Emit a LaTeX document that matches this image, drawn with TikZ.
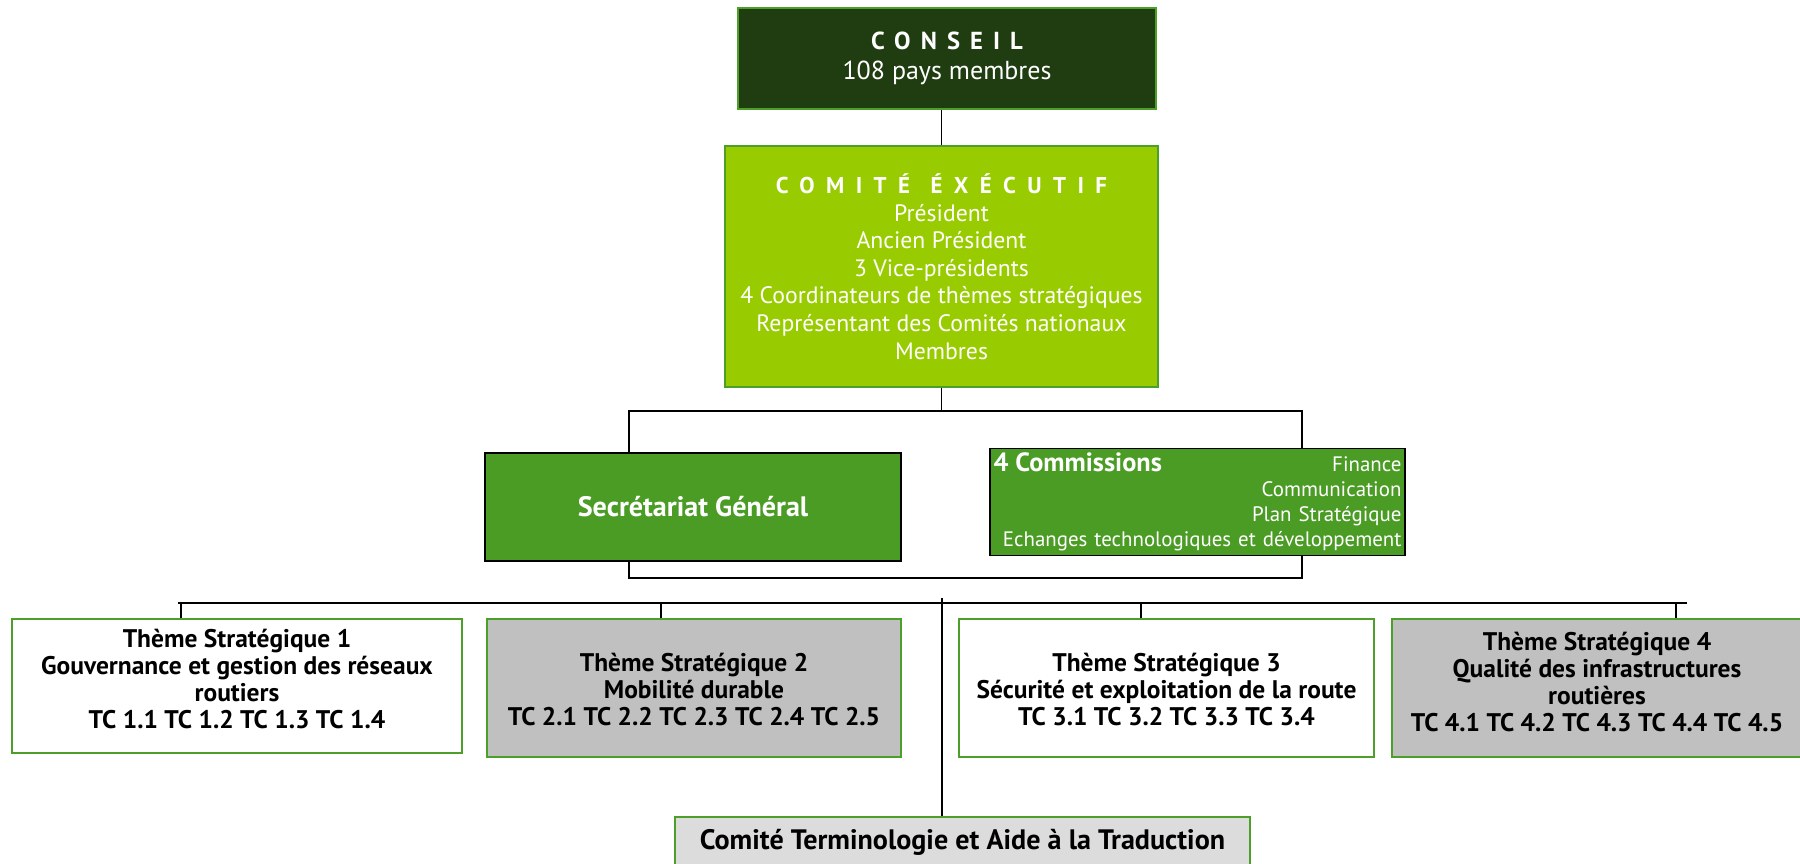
\documentclass[tikz,border=0pt]{standalone}
\usepackage{fontspec}
\setmainfont{PT Sans}
\usetikzlibrary{positioning}

\definecolor{darkgreen}{HTML}{1F3D11}
\definecolor{lightgreen}{HTML}{99CC00}
\definecolor{midgreen}{HTML}{4A9C24}
\definecolor{edgegreen}{HTML}{4CA02A}
\definecolor{themegray}{HTML}{C0C0C0}
\definecolor{paegray}{HTML}{DCDCDC}

\newcommand{\spaced}[2]{{\addfontfeature{LetterSpace=#1}#2}}

\begin{document}
\begin{tikzpicture}[x=0.02cm, y=-0.02cm,
    box/.style={draw=edgegreen, line width=1.1pt, align=center, inner sep=0pt},
    darkbox/.style={box, fill=midgreen, draw=black, text=white},
    theme/.style={box, minimum height=2.76cm},
    themetext/.style={align=center, inner sep=0pt,
        font=\bfseries\fontsize{14.5}{15.4}\selectfont},
    link/.style={line width=1.1pt},
    ]
    \clip (0,0) rectangle (1800,863);

    \node[box, fill=darkgreen, text=white, minimum width=8.36cm, minimum height=2.02cm,
        font=\fontsize{14.8}{17.5}\selectfont] (conseil) at (947,58.5)
        {{\bfseries\fontsize{14}{17.5}\selectfont\spaced{41}{CONSEIL}}\\108 pays membres};

    \node[box, fill=lightgreen, text=white, minimum width=8.66cm, minimum height=4.82cm,
        font=\fontsize{13.5}{15.7}\selectfont] (comite) at (941.5,266.5)
        {{\bfseries\fontsize{13}{15.7}\selectfont\spaced{50}{COMITÉ}\hspace{0.9em}\spaced{50}{ÉXÉCUTIF}}\\Président\\Ancien Président\\3 Vice-présidents\\
        4 Coordinateurs de thèmes stratégiques\\Représentant des Comités nationaux\\Membres};

    \node[darkbox, minimum width=8.32cm, minimum height=2.16cm,
        font=\bfseries\fontsize{16}{18}\selectfont] (secretariat) at (693,507)
        {Secrétariat Général};

    \node[darkbox, minimum width=8.3cm, minimum height=2.14cm, inner xsep=2pt,
        text width=8.16cm, align=right, font=\fontsize{11.9}{14.2}\selectfont] (commissions) at (1197.5,502)
        {{\bfseries\fontsize{15}{14.2}\selectfont 4 Commissions}\hskip0pt plus1filll Finance\\
        Communication\\Plan Stratégique\\Echanges technologiques et développement};

    % strategic themes: boxes, then their texts
    \node[theme, fill=white, minimum width=9cm, minimum height=2.68cm] (theme1) at (237,686) {};
    \node[theme, fill=themegray, minimum width=8.28cm] (theme2) at (694,688) {};
    \node[theme, fill=white, minimum width=8.3cm] (theme3) at (1166.5,688) {};
    \node[theme, fill=themegray, minimum width=8.2cm] (theme4) at (1597,688) {};

    \node[themetext] (text1) at ([yshift=0.14cm]theme1.center)
        {Thème Stratégique 1\\Gouvernance et gestion des réseaux\\routiers\\TC 1.1 TC 1.2 TC 1.3 TC 1.4};
    \node[themetext] (text2) at ([yshift=-0.03cm]theme2.center)
        {Thème Stratégique 2\\Mobilité durable\\TC 2.1 TC 2.2 TC 2.3 TC 2.4 TC 2.5};
    \node[themetext] (text3) at ([yshift=-0.03cm]theme3.center)
        {Thème Stratégique 3\\Sécurité et exploitation de la route\\TC 3.1 TC 3.2 TC 3.3 TC 3.4};
    \node[themetext] (text4) at ([yshift=0.12cm]theme4.center)
        {Thème Stratégique 4\\Qualité des infrastructures\\routières\\TC 4.1 TC 4.2 TC 4.3 TC 4.4 TC 4.5};

    \node[box, fill=paegray, minimum width=11.5cm, minimum height=1cm,
        font=\bfseries\fontsize{16}{19}\selectfont] (terminologie) at (962.5,842)
        {Comité Terminologie et Aide à la Traduction};

    % bracket round the secretariat and the commissions
    \coordinate (topL) at (629,411);
    \coordinate (topR) at (1302,411);
    \coordinate (botL) at (629,578);
    \coordinate (botR) at (1302,578);
    \draw[link] (comite.north |- conseil.south) -- (comite.north);
    \draw[link] (comite.south) -- (comite.south |- topL);
    \draw[link] (secretariat.north -| topL) -- (topL) -- (topR) -- (commissions.north -| topR);
    \draw[link] (secretariat.south -| botL) -- (botL) -- (botR) -- (commissions.south -| botR);

    % bus to the strategic themes
    \coordinate (busL) at (178,603);
    \coordinate (busR) at (1687,603);
    \coordinate (busTop) at (942,598);
    \draw[link] (busL) -- (busR);
    \foreach \t/\x in {theme1/181, theme2/661, theme3/1141, theme4/1676} {
        \coordinate (drop\t) at (\x,603);
        \draw[link] (drop\t) -- (drop\t |- \t.north);
    }
    \draw[link] (busTop) -- (busTop |- terminologie.north);
\end{tikzpicture}
\end{document}
